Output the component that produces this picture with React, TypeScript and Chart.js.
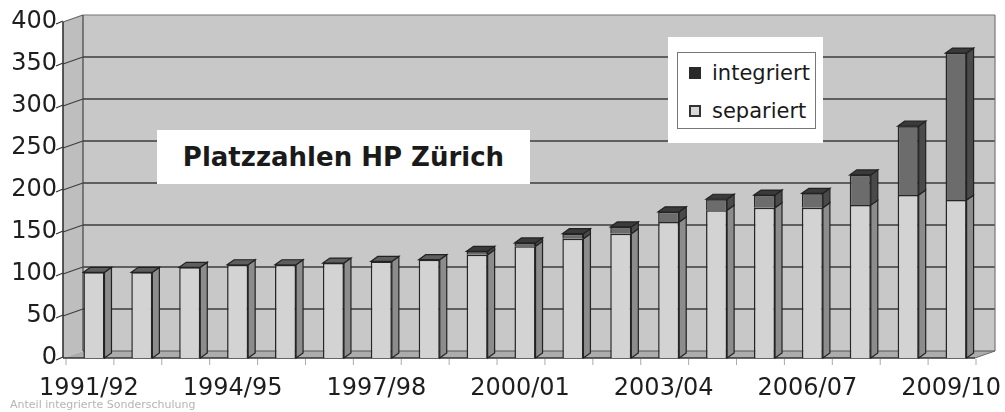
import React, { useEffect, useRef } from "react";
import { Chart, registerables } from "chart.js";

Chart.register(...registerables);

const categories = [
  "1991/92", "1992/93", "1993/94", "1994/95", "1995/96", "1996/97", "1997/98",
  "1998/99", "1999/00", "2000/01", "2001/02", "2002/03", "2003/04", "2004/05",
  "2005/06", "2006/07", "2007/08", "2008/09", "2009/10",
];
const separiert = [102, 102, 108, 111, 111, 113, 115, 117, 123, 133, 142, 148, 162, 176, 179, 179, 182, 194, 188];
const integriert = [0, 0, 0, 0, 0, 0, 0, 0, 4, 4, 6, 8, 12, 13, 15, 17, 36, 82, 175];
const yTicks = [0, 50, 100, 150, 200, 250, 300, 350, 400];
const shownLabels = ["1991/92", "1994/95", "1997/98", "2000/01", "2003/04", "2006/07", "2009/10"];

const TITLE = "Platzzahlen HP Zürich";
const FOOTNOTE = "Anteil integrierte Sonderschulung";

const WALL_DX = 20;
const WALL_DY = 7;
const BAR_DX = 7;
const BAR_DY = 5;
const FONT = "'DejaVu Sans', 'Liberation Sans', Arial, sans-serif";

function poly(ctx: CanvasRenderingContext2D, pts: number[][], fill: string | null, stroke: string | null, lw = 1) {
  ctx.beginPath();
  ctx.moveTo(pts[0][0], pts[0][1]);
  for (let i = 1; i < pts.length; i++) ctx.lineTo(pts[i][0], pts[i][1]);
  ctx.closePath();
  if (fill) {
    ctx.fillStyle = fill;
    ctx.fill();
  }
  if (stroke) {
    ctx.strokeStyle = stroke;
    ctx.lineWidth = lw;
    ctx.stroke();
  }
}

function line(ctx: CanvasRenderingContext2D, a: number[], b: number[], color: string, lw: number) {
  ctx.beginPath();
  ctx.moveTo(a[0], a[1]);
  ctx.lineTo(b[0], b[1]);
  ctx.strokeStyle = color;
  ctx.lineWidth = lw;
  ctx.stroke();
}

const pseudo3d = {
  id: "pseudo3d",
  beforeDatasetsDraw(chart: any) {
    const { ctx, chartArea, scales } = chart;
    const ys = scales.y;
    const xs = scales.x;
    const x0 = chartArea.left - 7;
    const x1 = chartArea.right - 5;
    const yb = ys.getPixelForValue(yTicks[0]);
    const yt = ys.getPixelForValue(yTicks[yTicks.length - 1]);
    const step = xs.getPixelForValue(1) - xs.getPixelForValue(0);
    ctx.save();
    // back wall
    poly(ctx, [[x0 + WALL_DX, yt - WALL_DY], [x1 + WALL_DX, yt - WALL_DY], [x1 + WALL_DX, yb - WALL_DY], [x0 + WALL_DX, yb - WALL_DY]], "#c8c8c8", null);
    // left wall
    poly(ctx, [[x0, yt], [x0 + WALL_DX, yt - WALL_DY], [x0 + WALL_DX, yb - WALL_DY], [x0, yb]], "#bebebe", null);
    // floor
    poly(ctx, [[x0, yb], [x0 + WALL_DX, yb - WALL_DY], [x1 + WALL_DX, yb - WALL_DY], [x1, yb]], "#acacac", null);
    // gridlines
    for (const v of yTicks) {
      if (v === yTicks[0] || v === yTicks[yTicks.length - 1]) continue;
      const py = ys.getPixelForValue(v);
      line(ctx, [x0 + WALL_DX, py - WALL_DY], [x1 + WALL_DX, py - WALL_DY], "#3c3c3c", 1.3);
      line(ctx, [x0, py], [x0 + WALL_DX, py - WALL_DY], "#3c3c3c", 1.1);
    }
    // outlines
    line(ctx, [x0 + WALL_DX, yt - WALL_DY], [x1 + WALL_DX, yt - WALL_DY], "#777", 1.2);
    line(ctx, [x1 + WALL_DX, yt - WALL_DY], [x1 + WALL_DX, yb - WALL_DY], "#777", 1.2);
    line(ctx, [x0, yt], [x0 + WALL_DX, yt - WALL_DY], "#666", 1.2);
    line(ctx, [x0 + WALL_DX, yt - WALL_DY], [x0 + WALL_DX, yb - WALL_DY], "#444", 1.2);
    line(ctx, [x0 + WALL_DX, yb - WALL_DY], [x1 + WALL_DX, yb - WALL_DY], "#555", 1);
    line(ctx, [x1, yb], [x1 + WALL_DX, yb - WALL_DY], "#666", 1);
    // front axis
    line(ctx, [x0, yt], [x0, yb], "#333", 1.6);
    line(ctx, [x0, yb], [x1, yb], "#333", 1.6);
    // y tick marks
    for (const v of yTicks) {
      const py = ys.getPixelForValue(v);
      line(ctx, [x0 - 7, py + 2], [x0, py - 1], "#333", 1.3);
    }
    // x tick marks (faint)
    for (let i = 0; i <= categories.length; i++) {
      const px = xs.getPixelForValue(0) - step / 2 + i * step;
      line(ctx, [px - 4, yb + 1], [px - 4, yb + 7], "#aaa", 1);
    }
    ctx.restore();
  },
  afterDatasetsDraw(chart: any) {
    const { ctx } = chart;
    const sideColors = ["#8c8c8c", "#4a4a4a"];
    const topColors = ["#5e5e5e", "#3a3a3a"];
    ctx.save();
    for (let i = 0; i < categories.length; i++) {
      for (let d = 0; d < 2; d++) {
        const val = chart.data.datasets[d].data[i];
        if (!val) continue;
        const el = chart.getDatasetMeta(d).data[i];
        const p = el.getProps(["x", "y", "base", "width"], true);
        const left = p.x - p.width / 2;
        const right = p.x + p.width / 2;
        const top = Math.min(p.y, p.base);
        const bottom = Math.max(p.y, p.base);
        poly(ctx, [[right, bottom], [right + BAR_DX, bottom - BAR_DY], [right + BAR_DX, top - BAR_DY], [right, top]], sideColors[d], "#222", 1.2);
        const isTop = d === 1 || !integriert[i];
        if (isTop) {
          poly(ctx, [[left, top], [left + BAR_DX, top - BAR_DY], [right + BAR_DX, top - BAR_DY], [right, top]], topColors[d], "#222", 1.2);
        }
      }
    }
    ctx.restore();
  },
};

export default function App() {
  const ref = useRef<HTMLCanvasElement | null>(null);

  useEffect(() => {
    if (!ref.current) return;
    const chart = new Chart(ref.current, {
      type: "bar",
      data: {
        labels: categories,
        datasets: [
          {
            label: "separiert",
            data: separiert,
            backgroundColor: "#d3d3d3",
            borderColor: "#262626",
            borderWidth: 1.5,
            barPercentage: 0.44,
            categoryPercentage: 1,
          },
          {
            label: "integriert",
            data: integriert,
            backgroundColor: "#6c6c6c",
            borderColor: "#262626",
            borderWidth: 1.5,
            barPercentage: 0.44,
            categoryPercentage: 1,
          },
        ],
      },
      options: {
        responsive: false,
        animation: false,
        devicePixelRatio: 1,
        layout: { padding: { top: 22, right: 25, left: 0, bottom: 0 } },
        plugins: {
          legend: { display: false },
          title: { display: false },
          tooltip: { enabled: false },
        },
        scales: {
          x: {
            stacked: true,
            grid: { display: false, drawTicks: false },
            border: { display: false },
            ticks: {
              autoSkip: false,
              maxRotation: 0,
              minRotation: 0,
              padding: 16,
              labelOffset: -5,
              color: "#1e1e1e",
              font: { family: FONT, size: 24 },
              callback: (_v: any, idx: number) => (shownLabels.includes(categories[idx]) ? categories[idx] : ""),
            },
            afterFit: (s: any) => {
              s.height = 54;
              s.paddingLeft = 0;
              s.paddingRight = 0;
            },
          },
          y: {
            stacked: true,
            min: yTicks[0],
            max: yTicks[yTicks.length - 1],
            grid: { display: false, drawTicks: false },
            border: { display: false },
            afterBuildTicks: (s: any) => {
              s.ticks = yTicks.map((v) => ({ value: v }));
            },
            ticks: {
              padding: 13,
              color: "#1e1e1e",
              font: { family: FONT, size: 24 },
            },
            afterFit: (s: any) => {
              s.width = 70;
              s.paddingTop = 0;
              s.paddingBottom = 0;
            },
          },
        },
      },
      plugins: [pseudo3d],
    });
    return () => chart.destroy();
  }, []);

  return (
    <div style={{ position: "absolute", left: 0, top: 0, width: 1005, height: 412, background: "#fff", overflow: "hidden", fontFamily: FONT }}>
      <canvas ref={ref} width={1005} height={412} style={{ width: 1005, height: 412, display: "block" }} />
      <div
        style={{
          position: "absolute", left: 157, top: 130, width: 373, height: 54, background: "#fff",
          display: "flex", alignItems: "center", justifyContent: "center",
          fontWeight: "bold", fontSize: 26, color: "#1a1a1a", whiteSpace: "nowrap",
        }}
      >
        {TITLE}
      </div>
      <div style={{ position: "absolute", left: 668, top: 37, width: 155, height: 106, background: "#fff" }}>
        <div
          style={{
            position: "absolute", left: 9, top: 15, width: 139, height: 77, border: "1.5px solid #777",
            boxSizing: "border-box",
          }}
        >
          <div style={{ position: "absolute", left: 11, top: 14, width: 12, height: 12, background: "#2a2a2a" }} />
          <div style={{ position: "absolute", left: 34, top: 6, fontSize: 21, lineHeight: "28px", color: "#1a1a1a", whiteSpace: "nowrap" }}>integriert</div>
          <div style={{ position: "absolute", left: 11, top: 52, width: 12, height: 12, background: "#d8d8d8", border: "2px solid #333", boxSizing: "border-box" }} />
          <div style={{ position: "absolute", left: 34, top: 44, fontSize: 21, lineHeight: "28px", color: "#1a1a1a", whiteSpace: "nowrap" }}>separiert</div>
        </div>
      </div>
      <div style={{ position: "absolute", left: 10, top: 398, fontSize: 11, lineHeight: "13px", color: "#b4b4b4", whiteSpace: "nowrap" }}>
        {FOOTNOTE}
      </div>
    </div>
  );
}
